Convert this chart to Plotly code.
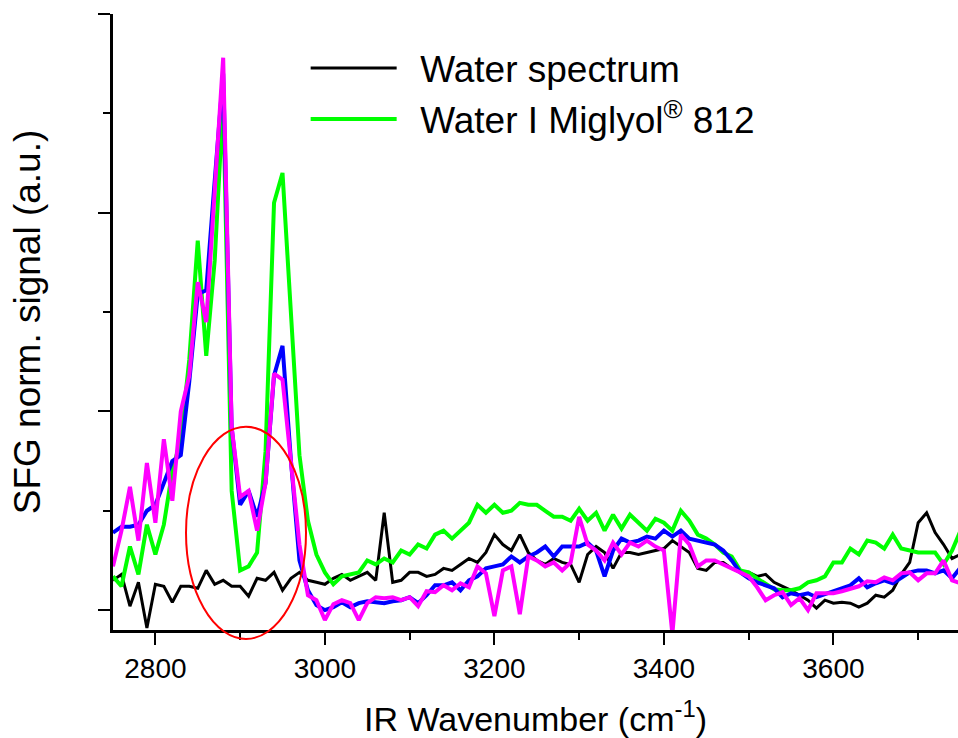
import plotly.graph_objects as go

wavenumber = list(range(2750, 3751, 10))

water = [
    0.15, 0.18, 0.02, 0.14, -0.09, 0.13, 0.12, 0.04, 0.12, 0.12,
    0.11, 0.20, 0.13, 0.15, 0.12, 0.12, 0.07, 0.16, 0.15, 0.19,
    0.10, 0.16, 0.19, 0.15, 0.14, 0.13, 0.16, 0.18, 0.15, 0.17,
    0.19, 0.15, 0.49, 0.14, 0.15, 0.19, 0.19, 0.17, 0.18, 0.21,
    0.20, 0.23, 0.26, 0.24, 0.29, 0.38, 0.33, 0.30, 0.38, 0.29,
    0.25, 0.23, 0.26, 0.24, 0.23, 0.14, 0.28, 0.32, 0.29, 0.21,
    0.29, 0.29, 0.28, 0.29, 0.30, 0.31, 0.35, 0.32, 0.29, 0.21,
    0.20, 0.24, 0.24, 0.21, 0.19, 0.19, 0.17, 0.18, 0.14, 0.12,
    0.10, 0.075, 0.05, 0.01, 0.05, 0.035, 0.04, 0.035, 0.015, 0.035,
    0.075, 0.065, 0.10, 0.18, 0.24, 0.44, 0.49, 0.39, 0.33, 0.26,
    0.28,
]

miglyol = [
    0.17, 0.12, 0.32, 0.18, 0.43, 0.28, 0.43, 0.70, 0.86, 1.26,
    1.86, 1.28, 1.76, 2.57, 0.60, 0.20, 0.22, 0.29, 0.80, 2.05,
    2.20, 1.46, 0.78, 0.45, 0.28, 0.19, 0.13, 0.17, 0.18, 0.19,
    0.25, 0.23, 0.26, 0.24, 0.30, 0.28, 0.33, 0.31, 0.38, 0.40,
    0.36, 0.40, 0.44, 0.53, 0.49, 0.53, 0.49, 0.50, 0.54, 0.53,
    0.53, 0.50, 0.47, 0.47, 0.45, 0.51, 0.45, 0.49, 0.40, 0.48,
    0.41, 0.48, 0.44, 0.40, 0.46, 0.44, 0.40, 0.50, 0.45, 0.38,
    0.36, 0.33, 0.29, 0.27, 0.20, 0.19, 0.16, 0.13, 0.105, 0.10,
    0.10, 0.11, 0.14, 0.15, 0.17, 0.24, 0.24, 0.31, 0.28, 0.35,
    0.34, 0.31, 0.38, 0.31, 0.30, 0.29, 0.29, 0.29, 0.23, 0.30,
    0.40,
]

blue_series = [
    0.39, 0.42, 0.42, 0.43, 0.50, 0.53, 0.64, 0.75, 0.78, 1.15,
    1.59, 1.61, 2.16, 2.70, 0.92, 0.53, 0.60, 0.47, 0.64, 1.18,
    1.33, 0.75, 0.25, 0.10, 0.025, 0.0, 0.015, 0.04, 0.015, 0.035,
    0.045, 0.04, 0.035, 0.045, 0.05, 0.065, 0.035, 0.075, 0.125, 0.125,
    0.14, 0.10, 0.15, 0.17, 0.21, 0.22, 0.23, 0.27, 0.24, 0.27,
    0.29, 0.32, 0.27, 0.32, 0.32, 0.32, 0.34, 0.30, 0.17, 0.30,
    0.36, 0.34, 0.35, 0.37, 0.36, 0.40, 0.37, 0.40, 0.36, 0.35,
    0.34, 0.33, 0.30, 0.25, 0.19, 0.16, 0.14, 0.125, 0.11, 0.065,
    0.085, 0.075, 0.085, 0.065, 0.08, 0.10, 0.11, 0.125, 0.16, 0.115,
    0.135, 0.15, 0.135, 0.165, 0.19, 0.20, 0.20, 0.185, 0.20, 0.16,
    0.215,
]

magenta_series = [
    0.22, 0.40, 0.62, 0.35, 0.74, 0.44, 0.86, 0.55, 1.00, 1.18,
    1.65, 1.45, 2.11, 2.78, 0.92, 0.57, 0.60, 0.40, 0.64, 1.19,
    1.16, 0.72, 0.33, 0.075, 0.05, -0.05, 0.03, 0.05, 0.035, -0.05,
    0.035, 0.065, 0.06, 0.065, 0.05, 0.065, 0.02, 0.095, 0.09, 0.125,
    0.10, 0.135, 0.115, 0.22, 0.185, -0.03, 0.20, 0.22, -0.02, 0.27,
    0.25, 0.22, 0.24, 0.20, 0.24, 0.47, 0.33, 0.30, 0.25, 0.34,
    0.28, 0.34, 0.32, 0.35, 0.32, 0.30, -0.12, 0.38, 0.33, 0.22,
    0.25, 0.25, 0.23, 0.21, 0.19, 0.17, 0.115, 0.05, 0.075, 0.09,
    0.025, 0.06, 0.0, 0.085, 0.085, 0.085, 0.095, 0.11, 0.12, 0.145,
    0.14, 0.165, 0.15, 0.185, 0.19, 0.15, 0.185, 0.185, 0.25, 0.15,
    0.135,
]

x_major = [2800, 3000, 3200, 3400, 3600]
x_minor = [2900, 3100, 3300, 3500, 3700]
y_major = [0, 1, 2, 3]
y_minor = [0.5, 1.5, 2.5]

FONT = "Arial, Liberation Sans, sans-serif"

fig = go.Figure()
fig.add_trace(go.Scatter(x=wavenumber, y=water, mode="lines", name="\u2002Water spectrum",
                         line=dict(color="#000000", width=3)))
fig.add_trace(go.Scatter(x=wavenumber, y=miglyol, mode="lines", name="\u2002Water I Miglyol<sup>®</sup> 812",
                         line=dict(color="#00ff00", width=4)))
fig.add_trace(go.Scatter(x=wavenumber, y=blue_series, mode="lines", name="blue", showlegend=False,
                         line=dict(color="#0000ff", width=4)))
fig.add_trace(go.Scatter(x=wavenumber, y=magenta_series, mode="lines", name="magenta", showlegend=False,
                         line=dict(color="#ff00ff", width=4)))

# red ellipse highlighting the 2900 cm-1 region (paper coordinates so it is not clipped)
fig.add_shape(type="circle", xref="paper", yref="paper",
              x0=0.0864, x1=0.2284, y0=-0.0145, y1=0.330,
              line=dict(color="#ff0000", width=2))

fig.update_layout(
    width=958, height=738,
    margin=dict(l=113, r=0, t=14, b=108),
    paper_bgcolor="white", plot_bgcolor="white",
    font=dict(family=FONT, color="black"),
    legend=dict(x=0.228, y=0.962, xanchor="left", yanchor="top",
                font=dict(size=37, family=FONT), bgcolor="rgba(0,0,0,0)",
                itemwidth=86, tracegroupgap=0),
    xaxis=dict(range=[2750, 3747], tickvals=x_major, ticks="outside", ticklen=12, tickwidth=2,
               tickcolor="black", showline=True, linewidth=2.5, linecolor="black",
               showgrid=False, zeroline=False, tickfont=dict(size=28, family=FONT),
               minor=dict(tickvals=x_minor, ticks="outside", ticklen=7, tickwidth=2, tickcolor="black"),
               title=dict(text="IR Wavenumber (cm<sup>-1</sup>)", font=dict(size=34, family=FONT), standoff=25)),
    yaxis=dict(range=[-0.1, 3.0], tickvals=y_major, showticklabels=False, ticks="outside", ticklen=12,
               tickwidth=2, tickcolor="black", showline=True, linewidth=3, linecolor="black",
               showgrid=False, zeroline=False,
               minor=dict(tickvals=y_minor, ticks="outside", ticklen=7, tickwidth=2, tickcolor="black"),
               title=dict(text="SFG norm. signal (a.u.)", font=dict(size=37, family=FONT), standoff=47)),
)

fig.write_html("out.html", config={"displayModeBar": False},
               post_script="document.body.style.margin='0px';")
